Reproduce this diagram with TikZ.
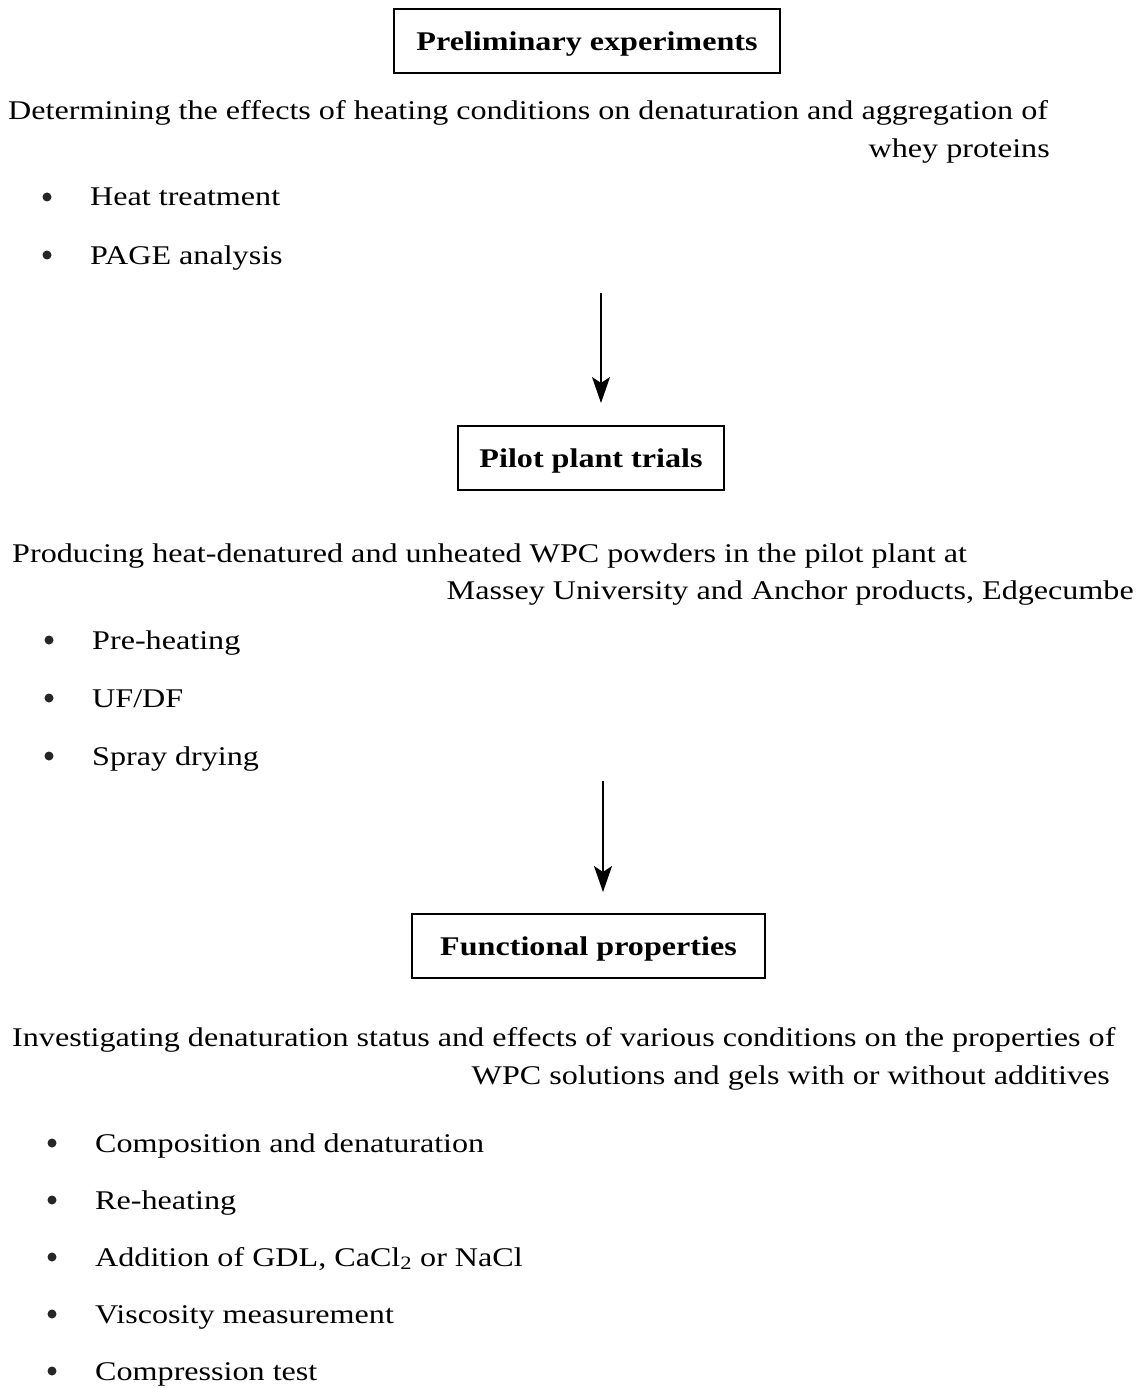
\documentclass[tikz,border=0pt]{standalone}
\usepackage{fontspec}
\setmainfont[FakeStretch=1.19]{Liberation Serif}
\usetikzlibrary{arrows.meta}
\tikzset{
  txt/.style={inner sep=0pt, font=\fontsize{27}{27}\selectfont},
  lft/.style={txt, anchor=base west},
  rgt/.style={txt, anchor=base east},
  bul/.style={circle, fill=black!85, inner sep=0pt, minimum size=9pt},
  title/.style={draw, line width=1.8pt, minimum height=64pt, inner xsep=0pt,
    text depth=7pt, text height=26pt,
    font=\fontsize{27}{27}\selectfont\bfseries},
  arr/.style={line width=1.4pt, -{Stealth[length=26pt, width=18pt, inset=6pt]}}
}
\begin{document}
\begin{tikzpicture}[x=1pt,y=1pt]
\useasboundingbox (0,0) rectangle (1142,-1388);
% Section 1
\node[title, minimum width=386pt] (b1) at (587,-41) {Preliminary experiments};
\node[lft] (d1) at (8,-120) {Determining the effects of heating conditions on denaturation and aggregation of};
\node[rgt] (d2) at (1050,-158) {whey proteins};
\node[bul] (p1) at (47,-197) {};
\node[lft] (i1) at (90,-206) {Heat treatment};
\node[bul] (p2) at (47,-255) {};
\node[lft] (i2) at (90,-264) {PAGE analysis};
\coordinate (a1s) at (601,-293);
\coordinate (a1e) at (601,-403);
\draw[arr] (a1s) -- (a1e);
% Section 2
\node[title, minimum width=266pt] (b2) at (591,-458) {Pilot plant trials};
\node[lft] (d3) at (12,-562) {Producing heat-denatured and unheated WPC powders in the pilot plant at};
\node[rgt] (d4) at (1134,-599) {Massey University and Anchor products, Edgecumbe};
\node[bul] (p3) at (49,-640) {};
\node[lft] (i3) at (92,-649) {Pre-heating};
\node[bul] (p4) at (49,-698) {};
\node[lft] (i4) at (92,-707) {UF/DF};
\node[bul] (p5) at (49,-756) {};
\node[lft] (i5) at (92,-765) {Spray drying};
\coordinate (a2s) at (603,-781);
\coordinate (a2e) at (603,-892);
\draw[arr] (a2s) -- (a2e);
% Section 3
\node[title, minimum width=353pt] (b3) at (588.5,-946) {Functional properties};
\node[lft] (d5) at (12,-1046) {Investigating denaturation status and effects of various conditions on the properties of};
\node[rgt] (d6) at (1110,-1084) {WPC solutions and gels with or without additives};
\node[bul] (p6) at (52,-1143) {};
\node[lft] (i6) at (95,-1152) {Composition and denaturation};
\node[bul] (p7) at (52,-1200) {};
\node[lft] (i7) at (95,-1209) {Re-heating};
\node[bul] (p8) at (52,-1257) {};
\node[lft] (i8) at (95,-1266) {Addition of GDL, CaCl\textsubscript{2} or NaCl};
\node[bul] (p9) at (52,-1314) {};
\node[lft] (i9) at (95,-1323) {Viscosity measurement};
\node[bul] (p10) at (52,-1371) {};
\node[lft] (i10) at (95,-1380) {Compression test};
\end{tikzpicture}
\end{document}
